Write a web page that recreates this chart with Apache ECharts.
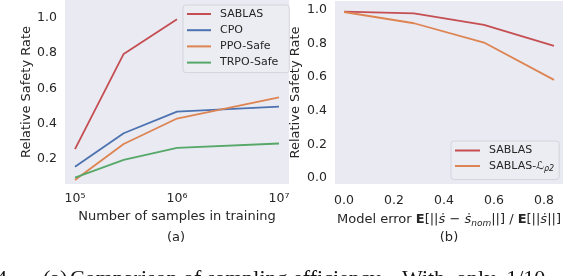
<!DOCTYPE html>
<html>
<head>
<meta charset="utf-8">
<script src="https://cdn.jsdelivr.net/npm/echarts@6/dist/echarts.min.js"></script>
<style>html,body{margin:0;padding:0;background:#fff;}#c{width:564px;height:276px;}</style>
</head>
<body>
<div id="c"></div>
<script>
// ---- data ----
const samplesX = [1e5, 3e5, 1e6, 1e7];
const sablasA = [0.256, 0.794, 0.99];
const cpoA = [0.157, 0.346, 0.468, 0.496];
const ppoA = [0.082, 0.285, 0.429, 0.548];
const trpoA = [0.095, 0.195, 0.263, 0.288];
const leftNames = ['SABLAS', 'CPO', 'PPO-Safe', 'TRPO-Safe'];
const leftTicksY = [0.2, 0.4, 0.6, 0.8, 1.0];

const errorX = [0, 0.28, 0.56, 0.84];
const sablasB = [0.990, 0.980, 0.911, 0.786];
const sablasL2B = [0.988, 0.921, 0.806, 0.584];
const rightNames = ['SABLAS ', 'SABLAS-Lp2'];
const rightTicksX = [0, 0.2, 0.4, 0.6, 0.8];
const rightTicksY = [0, 0.2, 0.4, 0.6, 0.8, 1.0];

const C = { red: '#c44e52', blue: '#4c72b0', orange: '#dd8452', green: '#55a868' };
const TXT = '#262626';
const FONT = 'DejaVu Sans';
const sup = { '5': '⁵', '6': '⁶', '7': '⁷', '4': '⁴', '8': '⁸' };

function pairs(xs, ys) { return ys.map((y, i) => [xs[i], y]); }

const chart = echarts.init(document.getElementById('c'), null, { renderer: 'canvas' });

const axisCommon = {
  axisLine: { show: false }, axisTick: { show: false }, splitLine: { show: false },
  nameTextStyle: { fontSize: 13, color: TXT, fontFamily: FONT }
};
const labelCommon = { fontSize: 12.5, color: TXT, fontFamily: FONT };

function lineSeries(name, xi, data, color) {
  return {
    name, type: 'line', xAxisIndex: xi, yAxisIndex: xi, data, symbol: 'none',
    lineStyle: { color, width: 1.8 }, itemStyle: { color }, silent: true
  };
}

const CAP_Y = 279.5;

const option = {
  animation: false,
  backgroundColor: '#fff',
  textStyle: { fontFamily: FONT },
  grid: [
    { left: 65, top: 0, width: 224, height: 184, show: true, backgroundColor: '#eaeaf2', borderWidth: 0, outerBoundsMode: 'none', containLabel: false },
    { left: 335, top: 1, width: 228, height: 183, show: true, backgroundColor: '#eaeaf2', borderWidth: 0, outerBoundsMode: 'none', containLabel: false }
  ],
  xAxis: [
    Object.assign({}, axisCommon, {
      type: 'log', logBase: 10, gridIndex: 0,
      min: Math.pow(10, 4.902), max: Math.pow(10, 7.098),
      name: 'Number of samples in training', nameLocation: 'middle', nameGap: 22,
      axisLabel: Object.assign({}, labelCommon, {
        margin: 8,
        formatter: function (v) {
          const l = Math.log10(v);
          const r = Math.round(l);
          if (Math.abs(l - r) < 1e-6) return '10' + (sup[String(r)] || r);
          return '';
        }
      })
    }),
    Object.assign({}, axisCommon, {
      type: 'value', gridIndex: 1, min: -0.036, max: 0.876,
      name: '{n|Model error }{b|E}{n|[||}{i|ṡ}{n| − }{i|ṡ}{sub|nom}{n|||] / }{b|E}{n|[||}{i|ṡ}{n|||]}',
      nameLocation: 'middle', nameGap: 22,
      nameTextStyle: {
        fontSize: 13, color: TXT, fontFamily: FONT,
        rich: {
          n: { fontSize: 13, color: TXT, fontFamily: FONT, lineHeight: 16, verticalAlign: 'middle' },
          b: { fontSize: 13, color: TXT, fontFamily: FONT, fontWeight: 'bold', lineHeight: 16, verticalAlign: 'middle' },
          i: { fontSize: 13, color: TXT, fontFamily: FONT, fontStyle: 'italic', lineHeight: 16, verticalAlign: 'middle' },
          sub: { fontSize: 9, color: TXT, fontFamily: FONT, fontStyle: 'italic', lineHeight: 16, verticalAlign: 'middle', padding: [7, 0, 0, 0] }
        }
      },
      axisLabel: Object.assign({}, labelCommon, {
        margin: 10, customValues: rightTicksX, formatter: v => v.toFixed(1)
      })
    })
  ],
  yAxis: [
    Object.assign({}, axisCommon, {
      type: 'value', gridIndex: 0, min: 0.059, max: 1.099,
      name: 'Relative Safety Rate', nameLocation: 'middle', nameGap: 32,
      axisLabel: Object.assign({}, labelCommon, { margin: 8, customValues: leftTicksY, formatter: v => v.toFixed(1) })
    }),
    Object.assign({}, axisCommon, {
      type: 'value', gridIndex: 1, min: -0.036, max: 1.0535,
      name: 'Relative Safety Rate', nameLocation: 'middle', nameGap: 33,
      axisLabel: Object.assign({}, labelCommon, { margin: 8, customValues: rightTicksY, formatter: v => v.toFixed(1) })
    })
  ],
  legend: [
    {
      data: leftNames, orient: 'vertical', left: 183, top: 5,
      icon: 'rect', itemWidth: 24, itemHeight: 2, itemGap: 4.2,
      padding: [3, 11, 4, 4],
      backgroundColor: 'rgba(236,236,243,0.9)', borderColor: '#d4d4dc', borderWidth: 1, borderRadius: 3,
      textStyle: { fontSize: 11, color: TXT, fontFamily: FONT, lineHeight: 12, padding: [0, 0, 0, 4] },
      selectedMode: false
    },
    {
      data: rightNames, orient: 'vertical', left: 451, top: 141,
      icon: 'rect', itemWidth: 25, itemHeight: 2, itemGap: 3,
      padding: [3.5, 5, 7, 4],
      backgroundColor: 'rgba(236,236,243,0.9)', borderColor: '#d4d4dc', borderWidth: 1, borderRadius: 3,
      formatter: function (name) {
        if (name === 'SABLAS ') return '{n|SABLAS}';
        return '{n|SABLAS-}{l|ℒ}{sub|ρ2}';
      },
      textStyle: {
        fontSize: 11, color: TXT, fontFamily: FONT, lineHeight: 12, padding: [0, 0, 0, 4],
        rich: {
          n: { fontSize: 11, color: TXT, fontFamily: FONT, lineHeight: 12, verticalAlign: 'middle' },
          l: { fontSize: 11, color: TXT, fontFamily: FONT, fontStyle: 'italic', lineHeight: 12, verticalAlign: 'middle' },
          sub: { fontSize: 8, color: TXT, fontFamily: FONT, fontStyle: 'italic', lineHeight: 12, verticalAlign: 'middle', padding: [5, 0, 0, 0] }
        }
      },
      selectedMode: false
    }
  ],
  series: [
    lineSeries(leftNames[0], 0, pairs(samplesX, sablasA), C.red),
    lineSeries(leftNames[1], 0, pairs(samplesX, cpoA), C.blue),
    lineSeries(leftNames[2], 0, pairs(samplesX, ppoA), C.orange),
    lineSeries(leftNames[3], 0, pairs(samplesX, trpoA), C.green),
    lineSeries(rightNames[0], 1, pairs(errorX, sablasB), C.red),
    lineSeries(rightNames[1], 1, pairs(errorX, sablasL2B), C.orange)
  ],
  graphic: [
    { type: 'text', silent: true, style: { text: '(a)', x: 176, y: 238, textAlign: 'center', textVerticalAlign: 'middle', fontSize: 13, fontFamily: FONT, fill: TXT } },
    { type: 'text', silent: true, style: { text: '(b)', x: 449, y: 238, textAlign: 'center', textVerticalAlign: 'middle', fontSize: 13, fontFamily: FONT, fill: TXT } },
    { type: 'text', silent: true, style: { text: '4.', x: -4, y: CAP_Y, textAlign: 'left', textVerticalAlign: 'middle', fontSize: 22, fontFamily: 'Liberation Serif', fill: '#111' } },
    { type: 'text', silent: true, style: { text: '(a)', x: 43, y: CAP_Y, textAlign: 'left', textVerticalAlign: 'middle', fontSize: 22, fontFamily: 'Liberation Serif', fill: '#111' } },
    { type: 'text', silent: true, style: { text: 'Comparison of sampling efficiency.', x: 70, y: CAP_Y, textAlign: 'left', textVerticalAlign: 'middle', fontSize: 22, fontFamily: 'Liberation Serif', fill: '#111' } },
    { type: 'text', silent: true, style: { text: 'With  only  1/10', x: 402, y: CAP_Y, textAlign: 'left', textVerticalAlign: 'middle', fontSize: 22, fontFamily: 'Liberation Serif', fill: '#111' } }
  ]
};
chart.setOption(option);
</script>
</body>
</html>
